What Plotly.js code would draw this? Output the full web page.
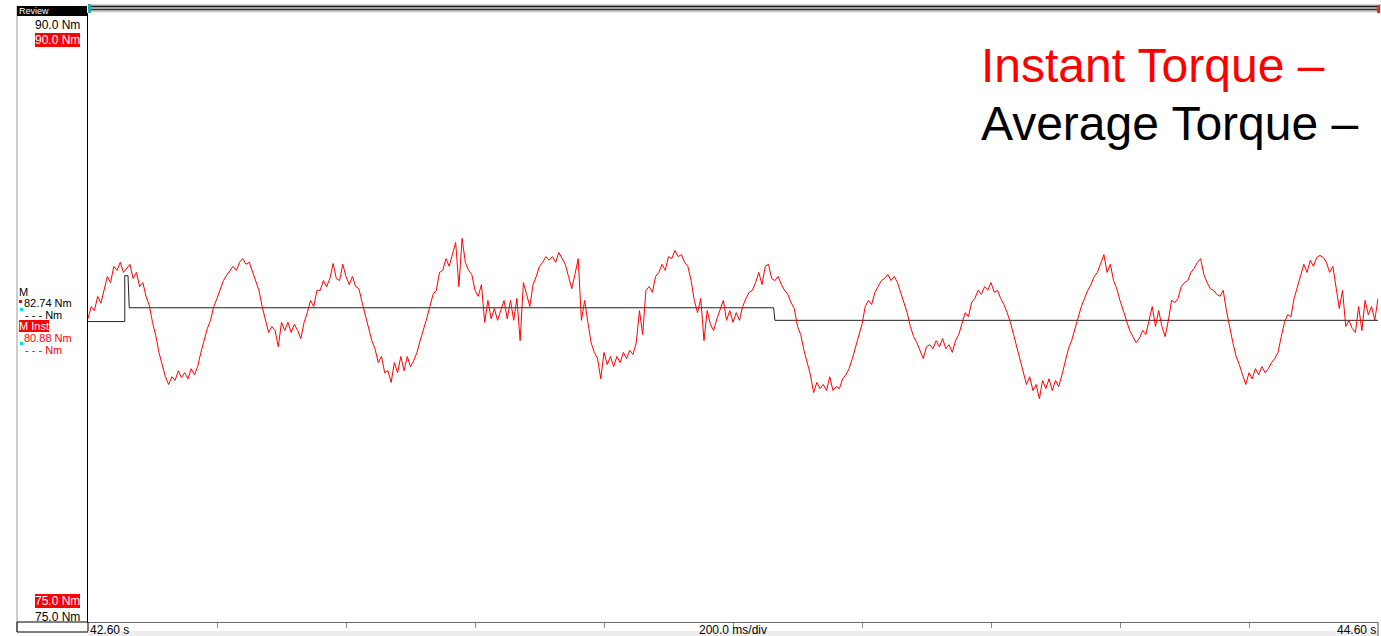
<!DOCTYPE html>
<html>
<head>
<meta charset="utf-8">
<script src="https://cdn.plot.ly/plotly-3.0.1.min.js"></script>
<style>
  html, body { margin: 0; padding: 0; background: #ffffff; overflow: hidden; }
  #chart { width: 1381px; height: 636px; }
</style>
</head>
<body>
<div id="chart"></div>
<script>
// Torque recording, 2 s window, 200 ms/div, sampled every 5 ms
const sampleStart = 42.60;   // s
const samplePeriod = 0.005;  // s

// Instant torque (Nm)
const instantTorque = [
  82.47, 82.77, 82.67, 83.02, 82.85, 83.17, 83.51, 83.36, 83.76, 83.66,
  83.86, 83.61, 83.71, 83.81, 83.46, 83.61, 83.26, 83.36, 83.02, 82.80,
  82.38, 82.06, 81.64, 81.34, 81.04, 80.85, 81.04, 80.95, 81.19, 81.02,
  81.14, 80.99, 81.24, 81.09, 81.29, 81.64, 81.93, 82.23, 82.43, 82.77,
  82.97, 83.17, 83.41, 83.54, 83.66, 83.76, 83.66, 83.86, 83.95, 83.81,
  83.86, 83.61, 83.41, 83.17, 82.77, 82.47, 82.13, 82.28, 82.18, 81.78,
  82.38, 82.18, 82.38, 82.13, 82.33, 82.18, 81.98, 82.38, 82.62, 82.92,
  82.77, 83.17, 83.17, 83.41, 83.26, 83.46, 83.83, 83.46, 83.41, 83.81,
  83.51, 83.31, 83.51, 83.26, 83.21, 82.87, 82.57, 82.28, 81.93, 81.73,
  81.39, 81.54, 81.14, 81.19, 80.90, 81.39, 81.14, 81.54, 81.19, 81.54,
  81.29, 81.44, 81.64, 81.93, 82.18, 82.47, 82.77, 83.07, 83.17, 83.61,
  83.66, 83.95, 83.76, 84.05, 84.35, 83.26, 84.45, 83.86, 83.66, 83.56,
  83.17, 83.02, 83.31, 82.38, 82.92, 82.47, 82.72, 82.43, 82.67, 82.92,
  82.47, 82.92, 82.43, 82.97, 81.93, 83.36, 83.07, 82.77, 83.31, 83.51,
  83.76, 83.86, 84.00, 83.91, 84.00, 83.86, 84.10, 83.95, 83.81, 83.51,
  83.21, 83.56, 83.95, 82.43, 82.92, 82.38, 81.88, 81.64, 81.49, 80.99,
  81.64, 81.34, 81.54, 81.29, 81.54, 81.39, 81.64, 81.49, 81.69, 81.59,
  81.88, 82.67, 82.08, 83.17, 83.26, 83.12, 83.51, 83.61, 83.81, 83.66,
  84.00, 83.95, 84.15, 84.00, 84.05, 83.86, 83.76, 83.41, 82.92, 82.62,
  82.97, 81.93, 82.67, 82.33, 82.18, 82.47, 82.67, 82.92, 82.43, 82.67,
  82.38, 82.62, 82.43, 82.77, 82.97, 83.12, 83.17, 83.36, 83.61, 83.31,
  83.76, 83.81, 83.46, 83.41, 83.51, 83.31, 83.17, 83.07, 82.87, 82.72,
  82.28, 82.08, 81.69, 81.39, 81.09, 80.65, 80.90, 80.75, 80.85, 80.70,
  81.04, 80.70, 80.80, 80.75, 80.99, 81.09, 81.24, 81.49, 81.78, 82.08,
  82.33, 82.77, 82.92, 82.82, 83.12, 83.26, 83.41, 83.46, 83.56, 83.41,
  83.51, 83.36, 83.12, 82.87, 82.62, 82.28, 82.03, 81.88, 81.69, 81.49,
  81.78, 81.83, 81.73, 81.93, 81.78, 81.98, 81.73, 81.83, 81.64, 81.93,
  82.08, 82.38, 82.62, 82.52, 82.87, 82.97, 83.17, 83.07, 83.26, 83.17,
  83.36, 83.12, 83.17, 82.97, 82.82, 82.62, 82.38, 82.08, 81.78, 81.44,
  81.19, 80.85, 81.04, 80.70, 80.85, 80.50, 80.95, 80.75, 80.99, 80.70,
  80.95, 80.80, 81.09, 81.44, 81.73, 81.93, 82.23, 82.47, 82.77, 82.97,
  83.17, 83.31, 83.51, 83.61, 83.81, 84.05, 83.61, 83.81, 83.41, 83.21,
  82.92, 82.67, 82.38, 82.18, 82.03, 81.88, 81.98, 82.18, 82.08, 82.43,
  82.77, 82.28, 82.67, 82.28, 82.03, 82.43, 82.92, 82.87, 82.97, 83.26,
  83.36, 83.41, 83.61, 83.71, 83.86, 83.95, 83.56, 83.36, 83.21, 83.17,
  83.07, 83.02, 83.17, 82.67, 82.23, 81.88, 81.54, 81.34, 81.09, 80.85,
  81.14, 80.99, 81.24, 81.09, 81.29, 81.14, 81.24, 81.39, 81.49, 81.64,
  82.03, 82.38, 82.57, 82.52, 82.97, 83.26, 83.51, 83.81, 83.61, 83.91,
  83.76, 83.98, 84.03, 83.98, 83.86, 83.61, 83.76, 83.26, 82.72, 83.17,
  82.28, 82.43, 82.23, 82.13, 82.77, 82.18, 82.92, 82.57, 82.77, 82.43,
  82.97
];

// Average torque (Nm), piecewise constant with its update instants (s)
const averageTime   = [42.600, 42.657, 42.657, 42.662, 42.664, 43.663, 43.665, 44.600];
const averageTorque = [82.40,  82.40,  83.53,  83.53,  82.74,  82.74,  82.43,  82.43];

// Axis settings
const timeRange = [42.60, 44.60];
const torqueRange = [75.0, 90.0];
const divisionTimes = [42.8, 43.0, 43.2, 43.4, 43.6, 43.8, 44.0, 44.2, 44.4];

// Texts
const legendTexts = ['Instant Torque –', 'Average Torque –'];
const rangeTopLabel = '90.0 Nm';
const rangeBottomLabel = '75.0 Nm';
const averageChannel = 'M';
const averageReadout = '82.74 Nm';
const instantChannel = 'M Inst';
const instantReadout = '80.88 Nm';
const emptyReadout = '- - - Nm';
const timeStartLabel = '42.60 s';
const timeEndLabel = '44.60 s';
const timebaseLabel = '200.0 ms/div';
const modeLabel = 'Review';

const instantTime = instantTorque.map((_, i) => sampleStart + i * samplePeriod);

// page pixel -> paper coordinates
const W = 1381, H = 636;
const px = p => p / W;
const py = p => 1 - p / H;

const FONT = 'Liberation Sans, Arial, sans-serif';

function label(text, x, y, opts) {
  return Object.assign({
    text: text, xref: 'paper', yref: 'paper', x: px(x), y: py(y),
    showarrow: false, xanchor: 'left', yanchor: 'middle',
    font: { family: FONT, size: 12, color: '#000000' },
    borderpad: 0, borderwidth: 0
  }, opts || {});
}

function rect(x0, y0, x1, y1, fill, line) {
  return {
    type: 'rect', xref: 'paper', yref: 'paper', layer: 'above',
    x0: px(x0), x1: px(x1), y0: py(y1), y1: py(y0),
    fillcolor: fill || 'rgba(0,0,0,0)',
    line: line || { width: 0 }
  };
}

function hline(x0, x1, y, color, width) {
  return {
    type: 'line', xref: 'paper', yref: 'paper', layer: 'above',
    x0: px(x0), x1: px(x1), y0: py(y), y1: py(y),
    line: { color: color, width: width }
  };
}

function vline(x, y0, y1, color, width) {
  return {
    type: 'line', xref: 'paper', yref: 'paper', layer: 'above',
    x0: px(x), x1: px(x), y0: py(y0), y1: py(y1),
    line: { color: color, width: width }
  };
}

const traces = [
  {
    x: averageTime, y: averageTorque, type: 'scatter', mode: 'lines',
    line: { color: '#222222', width: 1 }, hoverinfo: 'skip'
  },
  {
    x: instantTime, y: instantTorque, type: 'scatter', mode: 'lines',
    line: { color: '#ff0000', width: 1 }, hoverinfo: 'skip'
  }
];

const shapes = [
  // scroll bar above the plot
  rect(88, 4, 1381, 12.5, '#cfcfcf'),
  hline(90, 1378, 6.5, '#111111', 1.3),
  hline(90, 1378, 9.5, '#333333', 1.3),
  rect(88, 4, 91, 13, '#2aa8b0'),
  rect(1377, 5, 1380, 13, '#ff2020'),
  // left channel panel
  vline(17, 6, 632, '#9a9a9a', 1),
  rect(17, 6, 87, 16, '#000000'),
  rect(17, 622, 88, 632, null, { color: '#000000', width: 1 }),
  // cursor markers
  rect(19, 300, 22, 303, '#ff0000'),
  rect(20, 308, 23, 311, '#00e0f0'),
  rect(19, 327, 22, 330, '#ff0000'),
  rect(20, 342, 23, 345, '#00e0f0'),
  // bottom strip
  rect(88, 631, 1378, 636, '#ededed'),
  vline(1378, 622, 636, '#555555', 1)
];

const small = (color) => ({ family: FONT, size: 11, color: color });

const annotations = [
  label(modeLabel, 19, 11, { font: { family: FONT, size: 9, color: '#ffffff' } }),
  label(rangeTopLabel, 80, 25, { xanchor: 'right' }),
  label(rangeTopLabel, 80, 40, { xanchor: 'right', bgcolor: '#ff0000', font: { family: FONT, size: 12, color: '#ffffff' } }),
  label(averageChannel, 19, 292, { font: small('#000000') }),
  label(averageReadout, 24, 303.5, { font: small('#000000') }),
  label(emptyReadout, 25, 314.5, { font: small('#000000') }),
  label(instantChannel, 19, 325.5, { bgcolor: '#ff0000', font: small('#ffffff') }),
  label(instantReadout, 24, 338, { font: small('#ff0000') }),
  label(emptyReadout, 25, 350, { font: small('#ff0000') }),
  label(rangeBottomLabel, 80, 601, { xanchor: 'right', bgcolor: '#ff0000', font: { family: FONT, size: 12, color: '#ffffff' } }),
  label(rangeBottomLabel, 80, 617, { xanchor: 'right' }),
  label(timeStartLabel, 90, 630),
  label(timebaseLabel, 733, 630, { xanchor: 'center' }),
  label(timeEndLabel, 1376, 630, { xanchor: 'right' }),
  label(legendTexts[0], 981, 66, { font: { family: FONT, size: 48, color: '#ff0000' } }),
  label(legendTexts[1], 981, 124, { font: { family: FONT, size: 48, color: '#000000' } })
];

const layout = {
  width: W, height: H,
  margin: { l: 0, r: 0, t: 0, b: 0, pad: 0 },
  paper_bgcolor: '#ffffff', plot_bgcolor: '#ffffff',
  showlegend: false,
  hovermode: false,
  xaxis: {
    domain: [px(88), px(1378)],
    range: timeRange,
    showgrid: false, zeroline: false,
    showticklabels: false,
    tickmode: 'array', tickvals: divisionTimes,
    ticks: 'outside', ticklen: 5, tickwidth: 1, tickcolor: '#8a8a8a',
    showline: true, linecolor: '#6a6a6a', linewidth: 1
  },
  yaxis: {
    domain: [py(622), py(13)],
    range: torqueRange,
    showgrid: false, zeroline: false,
    showticklabels: false, ticks: '',
    showline: true, linecolor: '#000000', linewidth: 1
  },
  shapes: shapes,
  annotations: annotations
};

Plotly.newPlot('chart', traces, layout, { staticPlot: true, displayModeBar: false });
</script>
</body>
</html>
